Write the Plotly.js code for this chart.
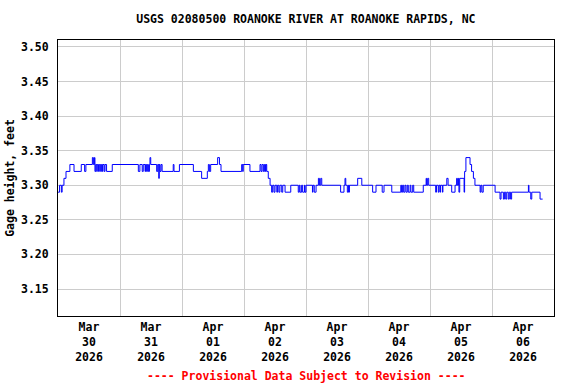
<!DOCTYPE html>
<html>
<head>
<meta charset="utf-8">
<script src="https://cdn.plot.ly/plotly-3.0.1.min.js"></script>
<style>html,body{margin:0;padding:0;background:#fff;}#chart{width:576px;height:384px;}</style>
</head>
<body>
<div id="chart"></div>
<script>
// Hours since 2026-03-30 00:00 at which the gage height changes, and the new value (ft)
const changeHours = [
  0, 0.6, 1.3, 1.6, 2.3, 3.1, 4.6, 6.2, 9.0, 10.3, 10.8, 13.3, 13.7, 14.1, 14.3, 14.6, 15.0, 15.2,
  15.7, 16.0, 16.5, 16.8, 17.2, 17.4, 17.9, 18.2, 18.8, 21.0, 31.1, 31.7, 32.6, 33.0, 33.7, 33.9,
  34.3, 34.6, 35.0, 35.4, 35.6, 35.9, 38.2, 38.6, 39.0, 39.2, 39.5, 39.9, 40.3, 44.6, 44.9, 47.0,
  52.4, 55.6, 57.8, 58.2, 58.6, 59.1, 61.8, 62.5, 63.1, 71.1, 71.5, 71.7, 74.3, 78.2, 78.6, 79.0,
  79.5, 79.9, 80.3, 80.5, 80.8, 81.4, 82.1, 82.7, 83.1, 83.6, 84.0, 84.7, 85.0, 85.5, 85.9, 86.6,
  87.0, 87.9, 90.1, 93.0, 93.4, 93.7, 94.3, 94.7, 95.4, 95.6, 96.0, 98.5, 98.7, 99.2, 99.9, 100.8,
  101.2, 101.7, 102.1, 109.4, 110.7, 111.1, 111.4, 112.0, 112.4, 112.6, 112.8, 116.0, 117.6, 121.8,
  123.1, 125.5, 126.2, 129.2, 132.7, 133.0, 133.4, 133.8, 134.3, 134.7, 135.2, 135.6, 136.3, 136.6,
  137.3, 137.7, 141.4, 142.5, 142.7, 143.1, 143.5, 146.2, 146.5, 147.2, 147.5, 147.9, 148.1, 148.8,
  149.0, 150.5, 151.0, 152.4, 153.7, 154.3, 154.6, 155.0, 155.2, 155.5, 157.2, 157.4, 157.9, 159.5,
  160.1, 160.8, 161.4, 163.4, 163.7, 164.1, 164.6, 169.2, 171.1, 171.5, 172.4, 172.8, 173.3, 173.7,
  174.3, 174.7, 175.2, 175.6, 182.1, 182.3, 183.0, 183.4, 186.6, 187.6
];
const gageHeight = [
  3.29, 3.30, 3.29, 3.30, 3.31, 3.32, 3.33, 3.32, 3.33, 3.32, 3.33, 3.34, 3.33, 3.34, 3.32, 3.33, 3.32, 3.33,
  3.32, 3.33, 3.32, 3.33, 3.32, 3.33, 3.32, 3.33, 3.32, 3.33, 3.32, 3.33, 3.32, 3.33, 3.32, 3.33,
  3.32, 3.33, 3.32, 3.33, 3.34, 3.33, 3.32, 3.33, 3.31, 3.33, 3.32, 3.33, 3.32, 3.33, 3.32, 3.33,
  3.32, 3.31, 3.32, 3.33, 3.32, 3.33, 3.34, 3.33, 3.32, 3.33, 3.32, 3.33, 3.32, 3.33, 3.32, 3.33,
  3.32, 3.33, 3.32, 3.33, 3.32, 3.31, 3.30, 3.29, 3.30, 3.29, 3.30, 3.29, 3.30, 3.29, 3.30, 3.29,
  3.30, 3.29, 3.30, 3.29, 3.30, 3.29, 3.30, 3.29, 3.30, 3.29, 3.30, 3.29, 3.30, 3.29, 3.30, 3.31,
  3.30, 3.31, 3.30, 3.29, 3.30, 3.31, 3.30, 3.29, 3.30, 3.29, 3.30, 3.31, 3.30, 3.29,
  3.30, 3.29, 3.30, 3.29, 3.30, 3.29, 3.30, 3.29, 3.30, 3.29, 3.30, 3.29, 3.30, 3.29,
  3.30, 3.29, 3.30, 3.31, 3.30, 3.31, 3.30, 3.29, 3.30, 3.29, 3.30, 3.29, 3.30, 3.29,
  3.30, 3.31, 3.30, 3.29, 3.30, 3.31, 3.30, 3.31, 3.29, 3.31, 3.29, 3.32, 3.34, 3.33,
  3.32, 3.31, 3.30, 3.29, 3.30, 3.29, 3.30, 3.29, 3.28, 3.29, 3.28, 3.29, 3.28, 3.29,
  3.28, 3.29, 3.28, 3.29, 3.30, 3.29, 3.28, 3.29, 3.28, 3.28
];
const yTicks = [3.15, 3.20, 3.25, 3.30, 3.35, 3.40, 3.45, 3.50];
const startDate = '2026-03-30';
const endDate = '2026-04-07';
const titleText = 'USGS 02080500 ROANOKE RIVER AT ROANOKE RAPIDS, NC';
const yTitle = 'Gage height, feet';
const footerText = '---- Provisional Data Subject to Revision ----';

const t0 = Date.UTC(2026, 2, 30);
const xs = changeHours.map(h => new Date(t0 + h * 3600000).toISOString().slice(0, 19).replace('T', ' '));

const FONT = {family: '"DejaVu Sans Mono", "Liberation Mono", monospace', size: 11.5, color: '#000', weight: 'bold'};

const data = [{
  x: xs, y: gageHeight, type: 'scatter', mode: 'lines',
  line: {color: '#0000ff', width: 1, shape: 'hv'}, hoverinfo: 'skip'
}];

const layout = {
  width: 576, height: 384,
  margin: {l: 58, r: 22, t: 40, b: 68},
  paper_bgcolor: '#fff', plot_bgcolor: '#fff',
  showlegend: false,
  font: FONT,
  title: {text: titleText, font: FONT, x: 0.531, xanchor: 'center', y: 0.95, yanchor: 'middle'},
  xaxis: {
    type: 'date', range: [startDate, endDate],
    tick0: startDate, dtick: 86400000, ticklabelmode: 'period',
    tickformat: '%b<br>%d<br>%Y', ticks: '',
    showgrid: true, gridcolor: '#cccccc', gridwidth: 1,
    showline: true, linecolor: '#000', linewidth: 1, mirror: true,
    zeroline: false, tickfont: FONT
  },
  yaxis: {
    range: [3.111, 3.510], tickvals: yTicks, tickformat: '.2f',
    ticks: 'outside', ticklen: 6, tickcolor: 'rgba(0,0,0,0)',
    showgrid: true, gridcolor: '#cccccc', gridwidth: 1,
    showline: true, linecolor: '#000', linewidth: 1, mirror: true,
    zeroline: false, tickfont: FONT,
    title: {text: yTitle, font: FONT, standoff: 3}
  },
  annotations: [{
    text: footerText, xref: 'paper', yref: 'paper', x: 0.5, y: -0.216,
    xanchor: 'center', yanchor: 'middle', showarrow: false,
    font: {family: FONT.family, size: 11.5, color: '#ff0000', weight: 'bold'}
  }]
};

Plotly.newPlot('chart', data, layout, {staticPlot: true, displayModeBar: false});
</script>
</body>
</html>
